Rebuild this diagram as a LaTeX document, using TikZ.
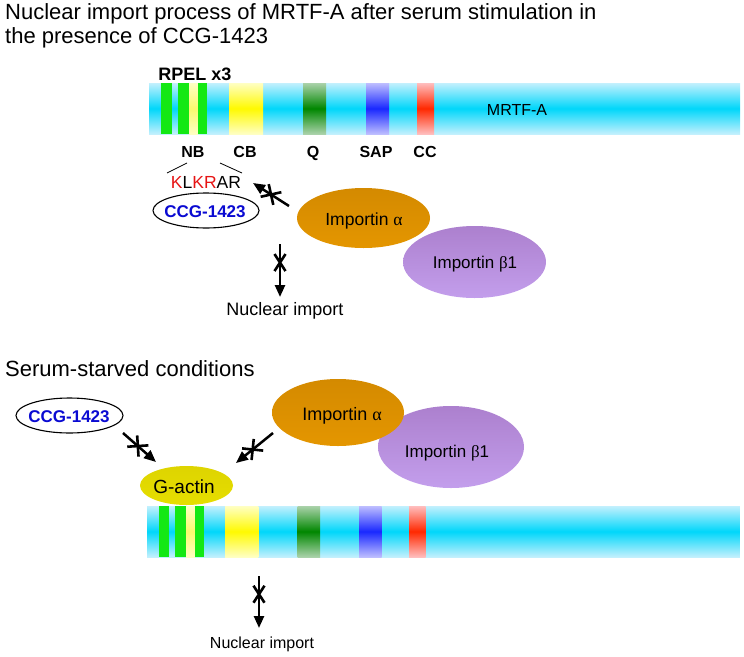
\documentclass[tikz,border=0pt]{standalone}
\usepackage{fontspec}
\setmainfont{Liberation Sans}
\newfontfamily\grk{Liberation Serif}
\usetikzlibrary{shapes.geometric,arrows.meta,decorations.markings}
\definecolor{barlight}{RGB}{195,240,253}
\definecolor{barmid}{RGB}{0,214,250}
\definecolor{rpelgreen}{RGB}{20,232,20}
\definecolor{thinyel}{RGB}{250,250,110}
\definecolor{cblight}{RGB}{255,255,195}
\definecolor{cbmid}{RGB}{255,250,0}
\definecolor{qlight}{RGB}{170,210,170}
\definecolor{qmid}{RGB}{0,135,0}
\definecolor{saplight}{RGB}{190,190,255}
\definecolor{sapmid}{RGB}{25,40,255}
\definecolor{cclight}{RGB}{255,190,190}
\definecolor{ccmid}{RGB}{255,40,0}
\definecolor{orA}{RGB}{212,138,0}
\definecolor{orB}{RGB}{246,172,15}
\definecolor{orC}{RGB}{228,150,0}
\definecolor{puA}{RGB}{172,128,206}
\definecolor{puB}{RGB}{205,168,242}
\definecolor{puC}{RGB}{195,158,236}
\definecolor{yeA}{RGB}{222,212,0}
\definecolor{yeB}{RGB}{246,240,40}
\definecolor{yeC}{RGB}{230,222,0}
\definecolor{ccgblue}{RGB}{10,10,210}
\definecolor{klred}{RGB}{230,20,20}
\newcommand\fs[1]{\fontsize{#1}{#1}\selectfont}
\newcommand\mrtfbar[4]{%
  \begin{scope}[shift={(#1,#2)},xscale=#3]
    \shade[top color=barlight,bottom color=barlight,middle color=barmid] (0,0) rectangle (#4,51);
    \fill[rpelgreen] (12,0) rectangle (23,51);
    \fill[rpelgreen] (29,0) rectangle (40,51);
    \shade[top color=cblight,bottom color=cblight,middle color=thinyel] (40,0) rectangle (49,51);
    \fill[rpelgreen] (49,0) rectangle (58,51);
    \shade[top color=cblight,bottom color=cblight,middle color=cbmid] (80,0) rectangle (114,51);
    \shade[top color=qlight,bottom color=qlight,middle color=qmid] (154,0) rectangle (177,51);
    \shade[top color=saplight,bottom color=saplight,middle color=sapmid] (217,0) rectangle (240,51);
    \shade[top color=cclight,bottom color=cclight,middle color=ccmid] (268,0) rectangle (285,51);
  \end{scope}}
\begin{document}
\begin{tikzpicture}[x=1pt,y=-1pt,
  txt/.style={anchor=base,inner sep=0},
  ttl/.style={anchor=base west,inner sep=0,font=\fs{22}},
  dom/.style={anchor=base,inner sep=0,font=\fs{16}\bfseries},
  ccg/.style={anchor=base,inner sep=0,font=\fs{17}\bfseries,text=ccgblue},
  oval/.style={ellipse,inner sep=0,draw=black,line width=1.1pt,fill=white},
  impa/.style={ellipse,inner sep=0,draw=none,top color=orA,middle color=orB,bottom color=orC},
  impb/.style={ellipse,inner sep=0,draw=none,top color=puA,middle color=puB,bottom color=puC},
  gact/.style={ellipse,inner sep=0,draw=none,top color=yeA,middle color=yeB,bottom color=yeC},
  arr/.style={line width=2.5pt,-{Triangle[length=12pt,width=10pt]}},
  blockd/.style={postaction={decorate},decoration={markings,
     mark=at position #1 with {\draw[line width=2.6pt,-] (-7.5,-7.5)--(7.5,7.5) (-7.5,7.5)--(7.5,-7.5);}}},
  blockv/.style={postaction={decorate},decoration={markings,
     mark=at position #1 with {\draw[line width=2.6pt,-] (-8.5,-5.5)--(8.5,5.5) (-8.5,5.5)--(8.5,-5.5);}}},
  thin/.style={line width=0.8pt}
]
\useasboundingbox (0,0) rectangle (744,656);

% ---------- title ----------
\node[ttl] (t1) at (5,19) {Nuclear import process of MRTF-A after serum stimulation in};
\node[ttl] (t2) at (5,43) {the presence of CCG-1423};

% ---------- top MRTF-A bar ----------
\mrtfbar{149}{83}{1}{591}
\node[txt,font=\fs{18}\bfseries] (rpel) at (195,80) {RPEL x3};
\node[txt,font=\fs{16}] (mrtf) at (517,115) {MRTF-A};
\node[dom] (nb) at (193,157) {NB};
\node[dom] (cb) at (245,157) {CB};
\node[dom] (q) at (313,157) {Q};
\node[dom] (sap) at (376,157) {SAP};
\node[dom] (cc) at (425,157) {CC};

\coordinate (nbl1) at (187,163); \coordinate (nbl2) at (167,173);
\coordinate (nbr1) at (220,163); \coordinate (nbr2) at (242,173);
\draw[thin] (nbl1) -- (nbl2);
\draw[thin] (nbr1) -- (nbr2);
\node[txt,font=\fs{17.5}] (kl) at (206,188) {\textcolor{klred}{K}L\textcolor{klred}{KR}AR};

\node[oval,minimum width=106,minimum height=35] (ccgT) at (206,210.5) {};
\node[ccg] (ccgTt) at (205,217) {CCG-1423};

\node[impb,minimum width=143,minimum height=72] (ib1) at (474.5,262) {};
\node[txt,font=\fs{17}] (ib1t) at (475,268) {Importin {\grk β}1};
\node[impa,minimum width=133,minimum height=60] (ia1) at (363.5,218) {};
\node[txt,font=\fs{17.5}] (ia1t) at (364,225) {Importin {\grk α}};

\coordinate (a1s) at (289,206); \coordinate (a1e) at (253,183);
\draw[arr,blockd=0.5] (a1s) -- (a1e);
\coordinate (v1s) at (280,244); \coordinate (v1e) at (280,297);
\draw[arr,blockv=0.35] (v1s) -- (v1e);
\node[txt,font=\fs{18}] (ni1) at (285,315) {Nuclear import};

% ---------- serum-starved ----------
\node[ttl] (t3) at (5,376) {Serum-starved conditions};

\node[oval,minimum width=107,minimum height=35] (ccgB) at (69.5,415.5) {};
\node[ccg] (ccgBt) at (69,422) {CCG-1423};

\node[impb,minimum width=146,minimum height=82] (ib2) at (451,447) {};
\node[txt,font=\fs{17}] (ib2t) at (447,457) {Importin {\grk β}1};
\node[impa,minimum width=132,minimum height=67] (ia2) at (338,412.5) {};
\node[txt,font=\fs{18}] (ia2t) at (342,420) {Importin {\grk α}};

\mrtfbar{147}{506}{0.978}{606.3}

\node[gact,minimum width=93,minimum height=39] (ga) at (186.5,485.5) {};
\node[txt,font=\fs{19}] (gat) at (184,493) {G-actin};

\coordinate (a2s) at (123,433); \coordinate (a2e) at (156,462);
\draw[arr,blockd=0.45] (a2s) -- (a2e);
\coordinate (a3s) at (273,433); \coordinate (a3e) at (236,463);
\draw[arr,blockd=0.55] (a3s) -- (a3e);

\coordinate (v2s) at (259,576); \coordinate (v2e) at (259,628);
\draw[arr,blockv=0.35] (v2s) -- (v2e);
\node[txt,font=\fs{16}] (ni2) at (262,648) {Nuclear import};
\end{tikzpicture}
\end{document}
